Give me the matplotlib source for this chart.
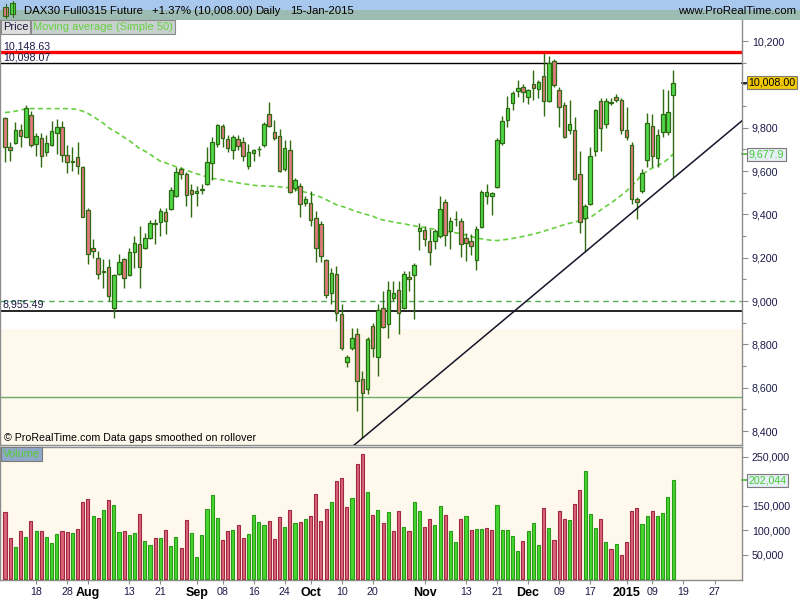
import numpy as np
import pandas as pd
import matplotlib
matplotlib.use("Agg")
import matplotlib.pyplot as plt
from matplotlib.transforms import blended_transform_factory
from matplotlib.ticker import FixedLocator, FuncFormatter

plt.rcParams['font.family'] = ['Liberation Sans', 'DejaVu Sans']

# ---- DAX30 Full0315 Future, daily bars -------------------------------------
opens = [9846, 9710, 9728, 9790, 9759, 9860, 9725, 9753, 9686, 9722,
         9776, 9805, 9674, 9642, 9665, 9619, 9421, 9247, 9197, 9135,
         9157, 8969, 9123, 9193, 9119, 9228, 9265, 9244, 9293, 9358,
         9366, 9412, 9424, 9486, 9608, 9587, 9514, 9500, 9514, 9540,
         9637, 9725, 9810, 9747, 9697, 9750, 9734, 9621, 9685, 9700,
         9721, 9864, 9779, 9761, 9608, 9697, 9521, 9529, 9452, 9452,
         9383, 9355, 9188, 9035, 9123, 8938, 8719, 8784, 8846, 8642,
         8596, 8887, 8742, 8966, 8892, 9012, 9049, 8969, 9113, 9119,
         9321, 9327, 9278, 9278, 9299, 9455, 9321, 9378, 9367, 9293,
         9276, 9191, 9340, 9484, 9486, 9525, 9730, 9836, 9915, 9969,
         9987, 9941, 10003, 9977, 10037, 9923, 10108, 9975, 9903, 9790,
         9787, 9587, 9381, 9450, 9694, 9922, 9815, 9912, 9941, 9929,
         9790, 9722, 9471, 9506, 9652, 9810, 9659, 9779, 9782, 9949]
highs = [9849, 9736, 9824, 9815, 9903, 9875, 9775, 9775, 9768, 9829,
         9841, 9833, 9722, 9710, 9733, 9623, 9429, 9288, 9231, 9193,
         9193, 9126, 9219, 9200, 9247, 9301, 9347, 9316, 9373, 9378,
         9429, 9429, 9525, 9617, 9620, 9594, 9540, 9533, 9540, 9710,
         9756, 9818, 9818, 9768, 9768, 9768, 9756, 9725, 9700, 9716,
         9826, 9918, 9836, 9795, 9744, 9744, 9568, 9545, 9486, 9509,
         9417, 9370, 9193, 9154, 9162, 8985, 8750, 8876, 8876, 8679,
         8833, 8900, 8985, 9046, 9093, 9093, 9093, 9139, 9139, 9177,
         9358, 9347, 9332, 9332, 9486, 9471, 9386, 9417, 9383, 9316,
         9309, 9347, 9514, 9540, 9504, 9753, 9852, 9944, 9969, 10019,
         10003, 9980, 10065, 10019, 10146, 10130, 10119, 9988, 9918, 9929,
         9849, 9694, 9447, 9713, 9888, 9938, 9938, 9938, 9954, 9938,
         9895, 9733, 9478, 9610, 9867, 9864, 9795, 9980, 9972, 10065]
lows = [9640, 9645, 9725, 9713, 9756, 9710, 9670, 9617, 9667, 9716,
        9679, 9640, 9591, 9602, 9586, 9386, 9173, 9200, 9100, 9062,
        9000, 8923, 9120, 9062, 9115, 9154, 9062, 9240, 9285, 9265,
        9301, 9309, 9420, 9481, 9563, 9440, 9386, 9440, 9494, 9535,
        9559, 9710, 9710, 9686, 9656, 9697, 9645, 9609, 9648, 9670,
        9710, 9802, 9741, 9594, 9602, 9497, 9509, 9386, 9440, 9347,
        9182, 9182, 9015, 8985, 8907, 8776, 8696, 8776, 8494, 8367,
        8571, 8741, 8653, 8877, 8830, 9000, 8849, 8961, 9046, 8915,
        9234, 9255, 9165, 9239, 9290, 9255, 9239, 9347, 9203, 9185,
        9213, 9144, 9336, 9450, 9398, 9520, 9722, 9802, 9880, 9941,
        9918, 9910, 9930, 9938, 9852, 9918, 9988, 9802, 9753, 9772,
        9560, 9312, 9228, 9444, 9671, 9694, 9800, 9905, 9920, 9769,
        9741, 9447, 9378, 9497, 9617, 9617, 9617, 9756, 9764, 9574]
closes = [9713, 9698, 9790, 9762, 9892, 9722, 9762, 9667, 9730, 9785,
          9805, 9674, 9643, 9647, 9623, 9390, 9216, 9231, 9123, 9139,
          9021, 9120, 9178, 9106, 9225, 9267, 9157, 9290, 9358, 9355,
          9414, 9367, 9514, 9597, 9587, 9489, 9494, 9506, 9517, 9643,
          9733, 9813, 9753, 9707, 9756, 9716, 9667, 9689, 9697, 9702,
          9818, 9809, 9753, 9600, 9707, 9503, 9560, 9447, 9471, 9373,
          9244, 9206, 9028, 9131, 8946, 8784, 8742, 8830, 8633, 8576,
          8827, 8781, 8957, 8881, 9049, 9035, 8946, 9123, 9100, 9165,
          9336, 9286, 9227, 9321, 9424, 9304, 9367, 9379, 9262, 9270,
          9255, 9332, 9505, 9501, 9497, 9741, 9833, 9892, 9961, 9984,
          9964, 9975, 9984, 10013, 9923, 10098, 9999, 9895, 9756, 9818,
          9564, 9363, 9440, 9671, 9880, 9800, 9922, 9919, 9929, 9790,
          9759, 9471, 9455, 9590, 9821, 9671, 9767, 9864, 9873, 10008]
volumes = [137000, 84000, 66000, 99000, 86000, 119000, 99000, 99000, 86000, 74000,
           93000, 99000, 97000, 95000, 103000, 158000, 164000, 129000, 125000, 141000,
           162000, 152000, 97000, 99000, 90000, 95000, 133000, 78000, 70000, 84000,
           84000, 101000, 68000, 86000, 64000, 121000, 95000, 46000, 90000, 144000,
           172000, 125000, 80000, 99000, 101000, 111000, 84000, 93000, 131000, 117000,
           111000, 119000, 82000, 127000, 107000, 141000, 115000, 117000, 123000, 129000,
           174000, 119000, 144000, 158000, 201000, 206000, 148000, 166000, 235000, 256000,
           178000, 131000, 141000, 115000, 137000, 99000, 139000, 106000, 99000, 157000,
           139000, 106000, 124000, 110000, 149000, 131000, 98000, 76000, 124000, 129000,
           100000, 102000, 102000, 104000, 100000, 151000, 100000, 100000, 88000, 57000,
           78000, 98000, 114000, 69000, 145000, 104000, 80000, 139000, 124000, 122000,
           153000, 182000, 222000, 133000, 104000, 124000, 76000, 61000, 73000, 49000,
           76000, 139000, 145000, 112000, 129000, 139000, 129000, 135000, 167000, 202044]
# Simple 50-day moving average of the close
ma50 = [9870, 9872, 9876, 9882, 9886, 9888, 9888, 9888, 9888, 9888,
        9888, 9888, 9888, 9887, 9884, 9876, 9866, 9852, 9836, 9820,
        9800, 9785, 9772, 9755, 9740, 9722, 9703, 9692, 9677, 9661,
        9645, 9638, 9628, 9620, 9612, 9603, 9596, 9587, 9581, 9572,
        9566, 9563, 9559, 9554, 9550, 9545, 9541, 9538, 9534, 9532,
        9531, 9530, 9529, 9527, 9525, 9522, 9515, 9508, 9502, 9494,
        9487, 9479, 9468, 9456, 9444, 9437, 9430, 9420, 9412, 9405,
        9398, 9392, 9380, 9374, 9369, 9365, 9360, 9357, 9351, 9347,
        9343, 9339, 9335, 9331, 9327, 9323, 9319, 9315, 9311, 9305,
        9298, 9291, 9287, 9283, 9280, 9279, 9282, 9285, 9289, 9294,
        9298, 9303, 9309, 9315, 9322, 9330, 9337, 9345, 9352, 9359,
        9365, 9370, 9378, 9386, 9402, 9420, 9437, 9452, 9470, 9488,
        9508, 9531, 9556, 9584, 9600, 9614, 9625, 9637, 9655, 9677.9]

# Horizontal reference levels and trend line anchors
level_high = 10148.63
level_close = 10098.07
level_support = 8955.49
level_round = 9000
level_low_band = 8557
zone_top = 8871
trend_a = (69, 8367)
trend_b = (129, 9566)

# Session calendar (exchange closed on the listed holidays)
holidays = pd.to_datetime(["2014-10-03", "2014-12-24", "2014-12-25",
                           "2014-12-26", "2014-12-31", "2015-01-01"])
days = pd.bdate_range("2014-07-10", "2015-01-15")
days = days[~days.isin(holidays)]
future = pd.bdate_range("2015-01-16", "2015-02-20")
calendar = days.append(future)

tick_dates = ["2014-07-18", "2014-07-28", "2014-08-01", "2014-08-13", "2014-08-21",
              "2014-09-01", "2014-09-08", "2014-09-16", "2014-09-24", "2014-10-01",
              "2014-10-10", "2014-10-20", "2014-11-03", "2014-11-13", "2014-11-21",
              "2014-12-01", "2014-12-09", "2014-12-17", "2015-01-02", "2015-01-09",
              "2015-01-19", "2015-01-27"]
tick_labels = ["18", "28", "Aug", "13", "21", "Sep", "08", "16", "24", "Oct",
               "10", "20", "Nov", "13", "21", "Dec", "09", "17", "2015", "09",
               "19", "27"]
bold_labels = {"Aug", "Sep", "Oct", "Nov", "Dec", "2015"}

price_ticks = [8400, 8600, 8800, 9000, 9200, 9400, 9600, 9800, 10200]
volume_ticks = [50000, 100000, 150000, 250000]

# ---------------------------------------------------------------------------
opens = np.array(opens, float)
highs = np.array(highs, float)
lows = np.array(lows, float)
closes = np.array(closes, float)
volumes = np.array(volumes, float)
ma50 = np.array(ma50, float)
n = len(closes)
x = np.arange(n)

GREEN = "#4fd84a"
RED = "#e07a80"
EDGE = "#2e6a10"
VGREEN = "#46d630"
VGREEN_E = "#2a9a18"
VRED = "#d9647a"
VRED_E = "#a02840"
CREAM = "#fef9ec"
GRID_GRAY = "#8c8c8c"
LABEL = "#1c1a48"
FS = 7.7

W, H = 800, 600
fig = plt.figure(figsize=(8, 6), dpi=100, facecolor="white")


def rect(x0, y0, x1, y1):
    return [x0 / W, 1 - y1 / H, (x1 - x0) / W, (y1 - y0) / H]


XMIN, XMAX = -0.97, 142.3

# ---- header bar ------------------------------------------------------------
axh = fig.add_axes(rect(0, 0, 800, 20))
grad = np.ones((20, 1, 3))
top = np.array([0xa9, 0xc8, 0xee]) / 255
bot = np.array([0x9c, 0xbb, 0xb2]) / 255
for r in range(20):
    grad[r, 0] = top if r < 10 else bot
axh.imshow(grad, aspect="auto", extent=(0, 800, 20, 0))
axh.set_xlim(0, 800)
axh.set_ylim(20, 0)
axh.axis("off")
# candle icon
axh.add_patch(plt.Rectangle((3, 7), 5, 9, facecolor=RED, edgecolor=EDGE, lw=0.8))
axh.plot([5.5, 5.5], [4, 18], color=EDGE, lw=0.8)
axh.add_patch(plt.Rectangle((10, 3), 5, 11, facecolor=GREEN, edgecolor=EDGE, lw=0.8))
axh.plot([12.5, 12.5], [1, 17], color=EDGE, lw=0.8)
for tx, s in [(24, "DAX30 Full0315 Future"), (152, "+1.37% (10,008.00)"),
              (255, "Daily"), (290, "15-Jan-2015")]:
    axh.text(tx, 10.5, s, fontsize=8.2, color="black", va="center", ha="left")
axh.text(796, 10.5, "www.ProRealTime.com", fontsize=8.2, color="black",
         va="center", ha="right")

# ---- price panel -------------------------------------------------------------
axp = fig.add_axes(rect(0, 20, 742, 445))
y_top = 10200 + 21 * 4.615
y_bot = 10200 - 404 * 4.615
axp.set_xlim(XMIN, XMAX)
axp.set_ylim(y_bot, y_top)
axp.set_facecolor("white")
axp.axhspan(y_bot, zone_top, color=CREAM, zorder=0, lw=0)

axp.axhline(level_high, color="#ff0000", lw=2.4, zorder=2)
axp.axhline(level_close, color="black", lw=1.0, zorder=2)
axp.axhline(level_round, color="#55aa55", lw=1.0, ls=(0, (4, 3)), zorder=2)
axp.axhline(level_support, color="black", lw=1.2, zorder=2)
axp.axhline(level_low_band, color="#6aaa6a", lw=1.0, zorder=2)

axp.plot(x, ma50, color="#66d040", lw=1.2, ls=(0, (3, 2)), zorder=3)

up = closes >= opens
body_lo = np.minimum(opens, closes)
body_h = np.maximum(np.abs(closes - opens), 1.0)
axp.vlines(x, lows, highs, color=EDGE, lw=1.0, zorder=4)
axp.bar(x, body_h, bottom=body_lo, width=0.68,
        color=np.where(up, GREEN, RED), edgecolor=EDGE, linewidth=0.9, zorder=5)

axp.axline(trend_a, trend_b, color="#15152a", lw=1.1, zorder=6)

axp.yaxis.tick_right()
axp.yaxis.set_major_locator(FixedLocator(price_ticks))
axp.yaxis.set_minor_locator(FixedLocator(np.arange(8400, 10300, 100)))
axp.yaxis.set_major_formatter(FuncFormatter(lambda v, p: f"{v:,.0f}"))
axp.tick_params(axis="y", which="major", length=4, width=0.8, color=GRID_GRAY,
                labelsize=FS, labelcolor=LABEL, pad=3)
axp.tick_params(axis="y", which="minor", length=3, width=0.8, color=GRID_GRAY)
axp.set_xticks([])
for side in ["left", "right", "bottom"]:
    axp.spines[side].set_color(GRID_GRAY)
    axp.spines[side].set_linewidth(1.0)
axp.spines["top"].set_visible(False)

tr = blended_transform_factory(axp.transAxes, axp.transData)
for lvl in [level_high, level_close, level_support]:
    axp.text(0.004, lvl + 4, f"{lvl:,.2f}", transform=tr, fontsize=FS,
             color=LABEL, va="bottom", ha="left", zorder=7)

axp.text(0.005, 0.017, "\u00a9 ProRealTime.com Data gaps smoothed on rollover",
         transform=axp.transAxes, fontsize=FS, color="black", va="center",
         ha="left", zorder=7)

# value markers on the price scale
axp.plot([1.0, 1.008], [closes[-1]] * 2, transform=tr, color="black", lw=1.2,
         clip_on=False)
axp.text(1.009, closes[-1], f"{closes[-1]:,.2f}", transform=tr, fontsize=FS,
         color="black", va="center", ha="left", clip_on=False, zorder=10,
         bbox=dict(boxstyle="square,pad=0.15", facecolor="#f2c900",
                   edgecolor="#7a7a7a", lw=0.8))
axp.plot([1.0, 1.008], [ma50[-1]] * 2, transform=tr, color="#44bb33", lw=1.2,
         clip_on=False)
axp.text(1.009, ma50[-1], f"{ma50[-1]:,.1f}", transform=tr, fontsize=FS,
         color="#44cc33", va="center", ha="left", clip_on=False, zorder=10,
         bbox=dict(boxstyle="square,pad=0.15", facecolor="#e6eef8",
                   edgecolor="#7a7a7a", lw=0.8))

# indicator legend boxes
fig.text(3 / W, 1 - 27 / H, "Price", fontsize=8, color="#1a1a3a", va="center",
         ha="left", bbox=dict(boxstyle="square,pad=0.15", facecolor="#dedede",
                              edgecolor="#8a8a8a", lw=0.8))
fig.text(33 / W, 1 - 27 / H, "Moving average (Simple 50)", fontsize=8,
         color="#66d040", va="center", ha="left",
         bbox=dict(boxstyle="square,pad=0.15", facecolor="#c8d0d0",
                   edgecolor="#8a8a8a", lw=0.8))

# ---- volume panel ------------------------------------------------------------
axv = fig.add_axes(rect(0, 447, 742, 580))
axv.set_facecolor(CREAM)
axv.set_xlim(XMIN, XMAX)
axv.set_ylim(-1500, 270000)
rising = np.empty(n, bool)
rising[0] = closes[0] >= opens[0]
rising[1:] = closes[1:] >= closes[:-1]
axv.bar(x, volumes, width=0.6, color=np.where(rising, VGREEN, VRED),
        edgecolor=np.where(rising, VGREEN_E, VRED_E), linewidth=0.8, zorder=3)

axv.yaxis.tick_right()
axv.yaxis.set_major_locator(FixedLocator(volume_ticks))
axv.yaxis.set_major_formatter(FuncFormatter(lambda v, p: f"{v:,.0f}"))
axv.tick_params(axis="y", length=4, width=0.8, color=GRID_GRAY, labelsize=FS,
                labelcolor=LABEL, pad=3)
for s in axv.spines.values():
    s.set_color(GRID_GRAY)
    s.set_linewidth(1.0)

trv = blended_transform_factory(axv.transAxes, axv.transData)
axv.plot([1.0, 1.008], [volumes[-1]] * 2, transform=trv, color="#44bb33", lw=1.2,
         clip_on=False)
axv.text(1.009, volumes[-1], f"{volumes[-1]:,.0f}", transform=trv, fontsize=FS,
         color="#44cc33", va="center", ha="left", clip_on=False, zorder=10,
         bbox=dict(boxstyle="square,pad=0.15", facecolor="#e6eef8",
                   edgecolor="#7a7a7a", lw=0.8))

fig.text(3 / W, 1 - 454 / H, "Volume", fontsize=8, color="#55cc33",
         va="center", ha="left", bbox=dict(boxstyle="square,pad=0.15",
                                           facecolor="#90a8c8",
                                           edgecolor="#7a7a7a", lw=0.8))

# date axis
tick_pos = [calendar.get_loc(pd.Timestamp(d)) for d in tick_dates]
axv.set_xticks(tick_pos)
axv.set_xticklabels(tick_labels)
axv.tick_params(axis="x", length=3, width=0.8, color=GRID_GRAY, pad=2,
                labelsize=FS, labelcolor=LABEL)
for lab in axv.get_xticklabels():
    if lab.get_text() in bold_labels:
        lab.set_fontweight("bold")
        lab.set_color("black")
        lab.set_fontsize(9)

fig.savefig("out.png", dpi=100, facecolor="white")
